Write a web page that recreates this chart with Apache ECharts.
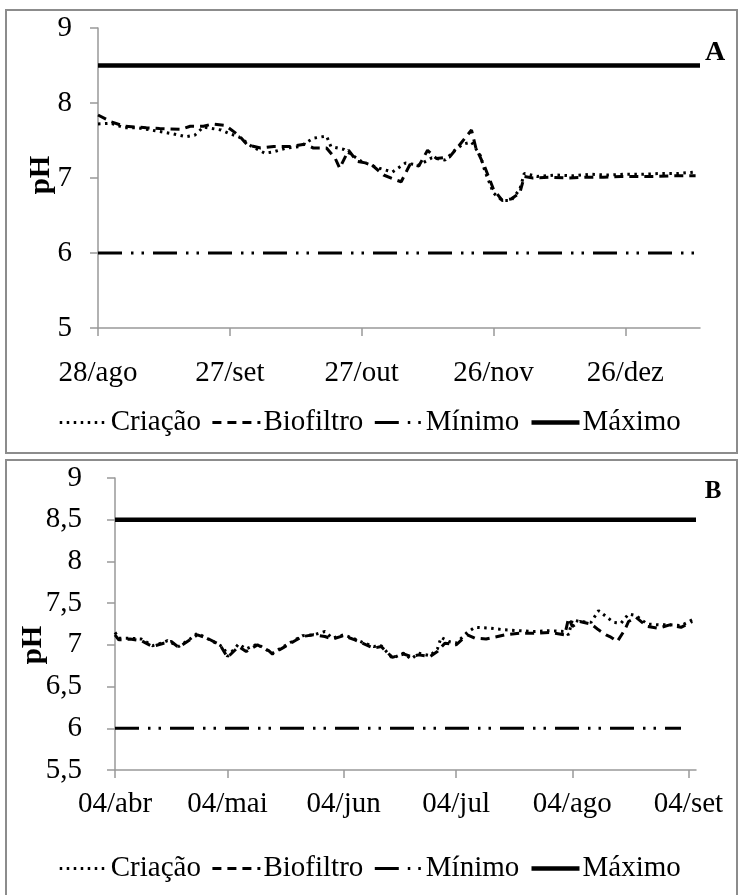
<!DOCTYPE html>
<html>
<head>
<meta charset="utf-8">
<script src="https://cdn.jsdelivr.net/npm/echarts@6/dist/echarts.min.js"></script>
<style>
	html, body { margin: 0; padding: 0; background: #fff; }
	#main { width: 739px; height: 895px; }
</style>
</head>
<body>
<div id="main"></div>
<script>
// painel A: dias a partir de 28/ago
var ticksA = [0, 30, 60, 90, 120];
var labelsA = ['28/ago', '27/set', '27/out', '26/nov', '26/dez'];
var criacaoA = [[0,7.72],[3,7.73],[6,7.67],[9,7.67],[13,7.63],[17,7.59],[20,7.55],[22,7.57],[24,7.68],[28,7.64],[30,7.59],[32,7.55],[35,7.42],[38,7.33],[40,7.35],[43,7.40],[46,7.42],[49,7.53],[52,7.56],[53,7.42],[56,7.38],[60,7.22],[64,7.13],[67,7.08],[70,7.20],[73,7.17],[76,7.27],[79,7.24],[81,7.36],[83,7.45],[85,7.48],[87,7.30],[88,7.10],[90,6.80],[92,6.70],[94,6.70],[96,6.85],[97,7.06],[100,7.02],[104,7.04],[108,7.03],[112,7.05],[116,7.04],[120,7.05],[124,7.05],[128,7.06],[132,7.06],[136,7.08]];
var biofiltroA = [[0,7.84],[3,7.75],[6,7.69],[11,7.67],[14,7.66],[19,7.65],[21,7.69],[24,7.69],[26,7.72],[29,7.70],[32,7.57],[34,7.44],[37,7.40],[40,7.42],[44,7.42],[47,7.45],[49,7.40],[52,7.40],[54,7.26],[55,7.13],[57,7.37],[59,7.22],[62,7.19],[65,7.04],[68,6.97],[69,6.95],[71,7.18],[73,7.16],[75,7.37],[77,7.26],[80,7.28],[82,7.42],[85,7.64],[86,7.40],[88,7.15],[90,6.85],[92,6.70],[94,6.72],[96,6.80],[97,7.02],[99,7.00],[103,7.01],[107,7.00],[111,7.01],[115,7.01],[119,7.02],[123,7.02],[127,7.02],[131,7.03],[136,7.03]];
var minimoA = [[0,6],[136,6]];
var maximoA = [[0,8.5],[137,8.5]];

// painel B: dias a partir de 04/abr
var ticksB = [0, 30, 61, 91, 122, 153];
var labelsB = ['04/abr', '04/mai', '04/jun', '04/jul', '04/ago', '04/set'];
var criacaoB = [[0,7.15],[1,7.08],[4,7.08],[7,7.07],[10,6.99],[13,7.03],[14,7.05],[17,6.98],[20,7.07],[22,7.14],[24,7.09],[27,7.02],[29,6.97],[30,6.86],[33,7.01],[35,6.95],[38,7.01],[40,6.95],[42,6.90],[45,6.98],[48,7.06],[50,7.11],[53,7.12],[56,7.16],[58,7.08],[61,7.12],[64,7.07],[66,7.03],[69,6.98],[71,6.99],[74,6.84],[77,6.90],[79,6.83],[81,6.90],[84,6.87],[86,6.95],[87,7.09],[89,7.04],[91,7.02],[94,7.15],[96,7.21],[100,7.20],[104,7.18],[108,7.17],[112,7.16],[116,7.17],[120,7.16],[121,7.12],[122,7.30],[124,7.28],[127,7.27],[129,7.41],[131,7.34],[133,7.27],[135,7.26],[137,7.37],[139,7.35],[142,7.25],[145,7.24],[148,7.24],[151,7.23],[154,7.30]];
var biofiltroB = [[0,7.12],[1,7.06],[4,7.07],[7,7.05],[10,6.98],[13,7.02],[15,7.04],[17,6.97],[20,7.06],[22,7.12],[25,7.07],[28,7.00],[30,6.85],[33,6.98],[35,6.92],[38,7.00],[41,6.93],[42,6.89],[45,6.97],[48,7.05],[50,7.10],[53,7.12],[56,7.10],[58,7.07],[61,7.11],[64,7.06],[66,7.02],[69,6.96],[71,6.98],[74,6.85],[77,6.89],[79,6.86],[81,6.88],[84,6.86],[86,6.92],[88,7.02],[91,7.00],[94,7.12],[96,7.08],[99,7.07],[104,7.12],[108,7.14],[112,7.14],[116,7.15],[120,7.12],[121,7.32],[122,7.22],[124,7.28],[127,7.25],[129,7.18],[131,7.12],[132,7.10],[134,7.04],[136,7.18],[137,7.28],[139,7.33],[142,7.22],[145,7.20],[148,7.24],[151,7.21],[154,7.28]];
var minimoB = [[0,6],[151,6]];
var maximoB = [[0,8.5],[155,8.5]];

var names = ['Criação', 'Biofiltro', 'Mínimo', 'Máximo'];

var FONT = '"Liberation Serif", "Times New Roman", serif';
var GRAY = '#999999';
var FS = 29;

function _xAxis(idx, max, ticks, labels) {
	return {
		type: 'value', gridIndex: idx, min: 0, max: max,
		splitLine: { show: false },
		axisLine: { lineStyle: { color: GRAY, width: 1.5 } },
		axisTick: { customValues: ticks, length: 8, lineStyle: { color: GRAY, width: 1.5 } },
		axisLabel: {
			customValues: ticks, margin: idx == 0 ? 31 : 20,
			color: '#000', fontFamily: FONT, fontSize: FS,
			formatter: function(v) { return labels[ticks.indexOf(v)]; }
		}
	};
}

function _yAxis(idx, min, interval, margin) {
	return {
		type: 'value', gridIndex: idx, min: min, max: 9, interval: interval,
		splitLine: { show: false },
		axisLine: { show: true, lineStyle: { color: GRAY, width: 1.5 } },
		axisTick: { show: true, length: 8, lineStyle: { color: GRAY, width: 1.5 } },
		axisLabel: {
			margin: margin, color: '#000', fontFamily: FONT, fontSize: FS,
			formatter: function(v) { return (v + '').replace('.', ','); }
		}
	};
}

function _series(idx, c, b, mi, ma) {
	var s = [
		{ name: names[0], data: c, lineStyle: { color: '#000', width: 3, type: [2.5, 4.5] } },
		{ name: names[1], data: b, lineStyle: { color: '#000', width: 3, type: [9, 6] } },
		{ name: names[2], data: mi, lineStyle: { color: '#000', width: 3, type: [24, 9, 2.5, 8, 2.5, 9] } },
		{ name: names[3], data: ma, lineStyle: { color: '#000', width: 4.5, type: 'solid' } }
	];
	for (var i = 0; i < s.length; i++) {
		s[i].type = 'line';
		s[i].xAxisIndex = idx;
		s[i].yAxisIndex = idx;
		s[i].symbol = 'none';
		s[i].itemStyle = { color: '#000' };
		s[i].emphasis = { disabled: true };
	}
	return s;
}

function _legend(top) {
	return {
		data: names, left: 'center', top: top,
		itemWidth: 48, itemHeight: 14, itemGap: 10,
		lineStyle: { width: 'inherit' },
		itemStyle: { color: 'rgba(0,0,0,0)', borderColor: 'rgba(0,0,0,0)', borderWidth: 0 },
		textStyle: { color: '#000', fontFamily: FONT, fontSize: FS, padding: [0, 0, 0, -2] }
	};
}

function _getOption() {
	var option = {
		animation: false,
		backgroundColor: '#fff',
		grid: [
			{ left: 98, top: 28, width: 602, height: 300 },
			{ left: 115, top: 478, width: 581, height: 292 }
		],
		xAxis: [ _xAxis(0, 137, ticksA, labelsA), _xAxis(1, 155, ticksB, labelsB) ],
		yAxis: [ _yAxis(0, 5, 1, 26), _yAxis(1, 5.5, 0.5, 33) ],
		legend: [ _legend(403), _legend(849) ],
		series: _series(0, criacaoA, biofiltroA, minimoA, maximoA)
			.concat(_series(1, criacaoB, biofiltroB, minimoB, maximoB)),
		graphic: [
			{ type: 'rect', shape: { x: 6, y: 10, width: 731, height: 443 }, style: { fill: 'none', stroke: '#8c8c8c', lineWidth: 2 } },
			{ type: 'rect', shape: { x: 6, y: 460, width: 731, height: 460 }, style: { fill: 'none', stroke: '#8c8c8c', lineWidth: 2 } },
			{ type: 'text', x: 715, y: 53, style: { text: 'A', font: 'bold 28px ' + FONT, fill: '#000', textAlign: 'center', textVerticalAlign: 'middle' } },
			{ type: 'text', x: 713, y: 492, style: { text: 'B', font: 'bold 25px ' + FONT, fill: '#000', textAlign: 'center', textVerticalAlign: 'middle' } },
			{ type: 'text', x: 42, y: 175, rotation: Math.PI / 2, style: { text: 'pH', font: 'bold 29px ' + FONT, fill: '#000', textAlign: 'center', textVerticalAlign: 'middle' } },
			{ type: 'text', x: 34, y: 645, rotation: Math.PI / 2, style: { text: 'pH', font: 'bold 29px ' + FONT, fill: '#000', textAlign: 'center', textVerticalAlign: 'middle' } }
		]
	};
	return option;
}

var myChart = echarts.init(document.getElementById('main'));
myChart.setOption(_getOption());
</script>
</body>
</html>
